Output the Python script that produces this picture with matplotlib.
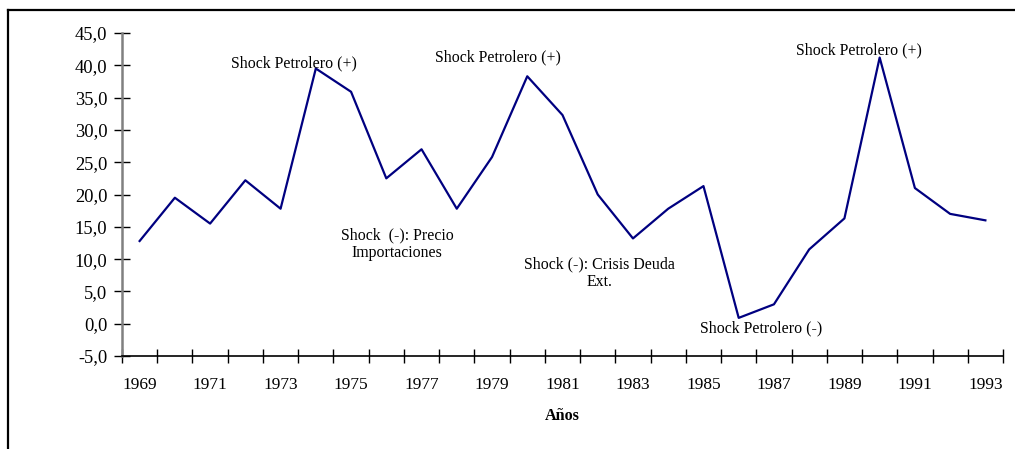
import matplotlib
matplotlib.use("Agg")
import matplotlib.pyplot as plt
from matplotlib.lines import Line2D

years = list(range(1969, 1994))
values = [12.8, 19.5, 15.5, 22.2, 17.8, 39.5, 35.9, 22.5, 27.0, 17.8,
          25.8, 38.3, 32.3, 20.0, 13.2, 17.8, 21.3, 0.9, 3.0, 11.5,
          16.3, 41.2, 21.0, 17.0, 16.0]
y_ticks = [-5, 0, 5, 10, 15, 20, 25, 30, 35, 40, 45]
annotations = [
    ("Shock Petrolero (+)", 1973.38, 39.7),
    ("Shock Petrolero (+)", 1979.17, 40.6),
    ("Shock Petrolero (+)", 1989.41, 41.7),
    ("Shock  (-): Precio\nImportaciones", 1976.31, 10.4),
    ("Shock (-): Crisis Deuda\nExt.", 1982.05, 5.9),
    ("Shock Petrolero (-)", 1986.63, -1.4),
]

plt.rcParams['font.family'] = ['Liberation Serif', 'DejaVu Serif']

fig = plt.figure(figsize=(10.15, 4.49), dpi=100)
ax = fig.add_axes([122/1015, 1-356/449, (1003-122)/1015, (356-33)/449])

x = [y - 1969 for y in years]
ax.plot(x, values, color='#000080', lw=1.6)

ax.set_xlim(-0.5, len(years) - 0.5)
ax.set_ylim(-5, 45)
ax.set_yticks(y_ticks)
ax.set_yticklabels([f"{v:.1f}".replace('.', ',') for v in y_ticks])

ax.set_xticks([i - 0.5 for i in range(len(years) + 1)])
ax.set_xticklabels([])
ax.set_xticks(x, minor=True)
ax.set_xticklabels([str(y) if (y - 1969) % 2 == 0 else '' for y in years], minor=True)
ax.tick_params(axis='x', which='major', direction='inout', length=10, width=1, color='black')
ax.tick_params(axis='x', which='minor', length=0, pad=15, labelsize=12.5)
ax.tick_params(axis='y', direction='inout', length=11, width=1, color='black',
               pad=5, labelsize=13.3)

for s in ['top', 'right']:
    ax.spines[s].set_visible(False)
ax.spines['left'].set_color('#808080')
ax.spines['left'].set_linewidth(1.8)
ax.spines['bottom'].set_color('black')
ax.spines['bottom'].set_linewidth(1.2)
ax.spines['bottom'].set_position(('data', -5))

for txt, xv, yv in annotations:
    ax.text(xv - 1969, yv, txt, ha='center', va='baseline', fontsize=11.4,
            linespacing=1.1, clip_on=False)

ax.set_xlabel('Años', fontsize=11.6, fontweight='bold', labelpad=11)

fig.add_artist(Line2D([8/1015, 1.0], [1-10/449, 1-10/449], color='black', lw=1.6,
                      transform=fig.transFigure))
fig.add_artist(Line2D([8/1015, 8/1015], [0, 1-10/449], color='black', lw=1.6,
                      transform=fig.transFigure))

fig.savefig('out.png', dpi=100)
